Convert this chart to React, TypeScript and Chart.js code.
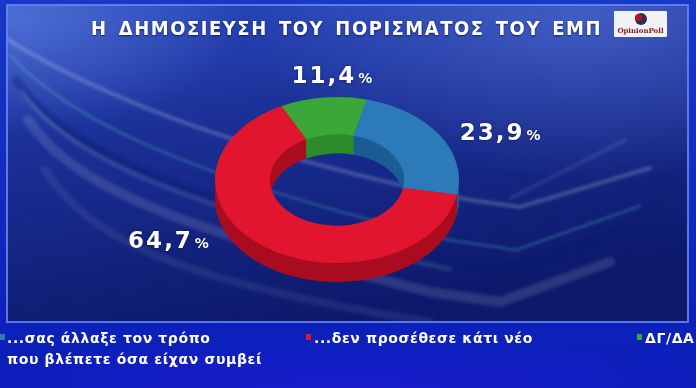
import React, { useEffect, useRef } from "react";
import { Chart, registerables } from "chart.js";

Chart.register(...registerables);

// ---------- data ----------
const title = "Η ΔΗΜΟΣΙΕΥΣΗ ΤΟΥ ΠΟΡΙΣΜΑΤΟΣ ΤΟΥ ΕΜΠ";
const categories = [
  "...σας άλλαξε τον τρόπο που βλέπετε όσα είχαν συμβεί",
  "...δεν προσέθεσε κάτι νέο",
  "ΔΓ/ΔΑ",
];
const legendLines = [
  ["...σας άλλαξε τον τρόπο", "που βλέπετε όσα είχαν συμβεί"],
  ["...δεν προσέθεσε κάτι νέο"],
  ["ΔΓ/ΔΑ"],
];
const values = [23.9, 64.7, 11.4];
const valueLabels = ["23,9", "64,7", "11,4"];
const topColors = ["#2c7bb8", "#e1152e", "#3aa738"];
const sideColors = ["#1b5d94", "#a90d1f", "#2b8c2a"];

// ---------- style ----------
const SQUASH = 0.68;
const DEPTH = 19;
// label placement: angle offset from slice middle (deg), radial factor of outer radius
const labelAngleOffset = [9.6, 26, 4.6];
const labelRadius = [1.456, 1.557, 1.27];

const ring3d = {
  id: "ring3d",
  beforeDatasetsDraw(chart: any) {
    const ctx = chart.ctx;
    const meta = chart.getDatasetMeta(0);
    const a0 = meta.data[0];
    const cx = a0.x, cy = a0.y;
    ctx.save();
    ctx.translate(cx, cy);
    ctx.scale(1, SQUASH);
    ctx.translate(-cx, -cy);
    for (let k = DEPTH; k >= 1; k--) {
      ctx.save();
      ctx.translate(0, k / SQUASH);
      meta.data.forEach((arc: any, i: number) => {
        const o = arc.options;
        const bg = o.backgroundColor;
        const bc = o.borderColor;
        o.backgroundColor = sideColors[i];
        o.borderColor = sideColors[i];
        arc.draw(ctx);
        o.backgroundColor = bg;
        o.borderColor = bc;
      });
      ctx.restore();
    }
  },
  afterDatasetsDraw(chart: any) {
    const ctx = chart.ctx;
    ctx.restore();
    const meta = chart.getDatasetMeta(0);
    meta.data.forEach((arc: any, i: number) => {
      const mid = (arc.startAngle + arc.endAngle) / 2 + (labelAngleOffset[i] * Math.PI) / 180;
      const r = arc.outerRadius * labelRadius[i];
      const x = arc.x + Math.cos(mid) * r;
      const y = arc.y + Math.sin(mid) * r * SQUASH;
      ctx.save();
      ctx.fillStyle = "#ffffff";
      ctx.textBaseline = "alphabetic";
      ctx.shadowColor = "rgba(0,0,30,0.5)";
      ctx.shadowBlur = 3;
      (ctx as any).letterSpacing = "2px";
      ctx.font = "bold 23px 'DejaVu Sans'";
      const wNum = ctx.measureText(valueLabels[i]).width;
      (ctx as any).letterSpacing = "0px";
      ctx.font = "bold 14px 'DejaVu Sans'";
      const wPct = ctx.measureText("%").width;
      const total = wNum + 2 + wPct;
      const left = x - total / 2;
      const base = y + 8;
      (ctx as any).letterSpacing = "2px";
      ctx.font = "bold 23px 'DejaVu Sans'";
      ctx.textAlign = "left";
      ctx.fillText(valueLabels[i], left, base);
      (ctx as any).letterSpacing = "0px";
      ctx.font = "bold 14px 'DejaVu Sans'";
      ctx.fillText("%", left + wNum + 2, base);
      ctx.restore();
    });
  },
};

function Background() {
  return (
    <svg width={696} height={388} style={{ position: "absolute", left: 0, top: 0 }}>
      <defs>
        <linearGradient id="outer" x1="0" y1="0" x2="0" y2="1">
          <stop offset="0" stopColor="#1838c8" />
          <stop offset="1" stopColor="#0a1db8" />
        </linearGradient>
        <linearGradient id="panel" x1="0" y1="0" x2="0.35" y2="1">
          <stop offset="0" stopColor="#2a4bc0" />
          <stop offset="0.45" stopColor="#1a2e94" />
          <stop offset="1" stopColor="#0d1a6c" />
        </linearGradient>
        <radialGradient id="glowTR" cx="0.85" cy="0.05" r="0.5">
          <stop offset="0" stopColor="#5a7ae0" stopOpacity="0.55" />
          <stop offset="1" stopColor="#5a7ae0" stopOpacity="0" />
        </radialGradient>
        <radialGradient id="glowTL" cx="0.0" cy="0.05" r="0.35">
          <stop offset="0" stopColor="#7a9af0" stopOpacity="0.45" />
          <stop offset="1" stopColor="#7a9af0" stopOpacity="0" />
        </radialGradient>
        <radialGradient id="glowBot" cx="0.5" cy="1" r="0.6">
          <stop offset="0" stopColor="#2a1ce0" stopOpacity="0.5" />
          <stop offset="1" stopColor="#2a1ce0" stopOpacity="0" />
        </radialGradient>
        <filter id="soft" x="-10%" y="-10%" width="120%" height="120%">
          <feGaussianBlur stdDeviation="1.4" />
        </filter>
        <clipPath id="pclip">
          <rect x={7} y={5} width={681} height={317} />
        </clipPath>
      </defs>
      <rect x={0} y={0} width={696} height={388} fill="url(#outer)" />
      <rect x={0} y={300} width={696} height={88} fill="url(#glowBot)" />
      <rect x={7} y={5} width={681} height={317} fill="url(#panel)" />
      <rect x={7} y={5} width={681} height={317} fill="url(#glowTR)" />
      <rect x={7} y={5} width={681} height={317} fill="url(#glowTL)" />
      <g fill="none" strokeLinecap="round" filter="url(#soft)" clipPath="url(#pclip)">
        <path d="M 5 38 C 80 85, 220 150, 470 200 L 520 207 L 650 168" stroke="#ffffff" strokeOpacity={0.2} strokeWidth={4} />
        <path d="M 10 55 C 60 110, 160 170, 450 240 L 516 250 L 640 206" stroke="#5fd0c0" strokeOpacity={0.35} strokeWidth={2} />
        <path d="M 16 80 C 60 140, 140 190, 450 262 L 516 268 L 636 226" stroke="#07146a" strokeOpacity={0.35} strokeWidth={8} />
        <path d="M 22 92 C 64 150, 144 198, 450 270" stroke="#ffffff" strokeOpacity={0.14} strokeWidth={3} />
        <path d="M 28 120 C 70 180, 150 222, 430 292 L 500 302 L 610 262" stroke="#ffffff" strokeOpacity={0.12} strokeWidth={10} />
        <path d="M 45 170 C 90 240, 180 282, 430 322" stroke="#ffffff" strokeOpacity={0.07} strokeWidth={8} />
        <path d="M 511 198 L 625 140" stroke="#ffffff" strokeOpacity={0.12} strokeWidth={3} />
      </g>
      <rect x={7} y={5} width={681} height={317} fill="none" stroke="#6b86f0" strokeOpacity={0.85} strokeWidth={2} />
    </svg>
  );
}

export default function App() {
  const ref = useRef<HTMLCanvasElement | null>(null);
  useEffect(() => {
    document.body.style.margin = "0";
    const chart = new Chart(ref.current as HTMLCanvasElement, {
      type: "doughnut",
      data: {
        labels: categories,
        datasets: [
          {
            data: values,
            backgroundColor: topColors,
            borderWidth: 0,
            hoverOffset: 0,
          },
        ],
      },
      options: {
        animation: false,
        responsive: false,
        maintainAspectRatio: false,
        events: [],
        rotation: 14,
        cutout: "55%",
        layout: { padding: { left: 215, right: 237, top: 58, bottom: 86 } },
        plugins: {
          legend: { display: false },
          tooltip: { enabled: false },
          title: { display: false },
        },
      },
      plugins: [ring3d],
    });
    return () => chart.destroy();
  }, []);

  const legendText: React.CSSProperties = {
    position: "absolute",
    color: "#ffffff",
    font: "bold 14px 'DejaVu Sans', sans-serif",
    letterSpacing: "0.6px",
    whiteSpace: "nowrap",
    textAlign: "justify",
    textAlignLast: "justify" as any,
    lineHeight: "16px",
  };
  const legendLayout = [
    { mx: 0, tx: 7, widths: [200, 255] },
    { mx: 306, tx: 314, widths: [218] },
    { mx: 637, tx: 645, widths: [47] },
  ];

  return (
    <div style={{ position: "fixed", left: 0, top: 0, width: 696, height: 388, overflow: "hidden", background: "#0a1db8" }}>
      <Background />
      <canvas ref={ref} width={696} height={388} style={{ position: "absolute", left: 0, top: 0, width: 696, height: 388 }} />
      <div
        style={{
          position: "absolute",
          left: 91,
          top: 17,
          width: 511,
          color: "#ffffff",
          font: "bold 20px 'DejaVu Sans Condensed', 'Liberation Sans Narrow', 'DejaVu Sans', sans-serif",
          letterSpacing: "1.5px",
          whiteSpace: "nowrap",
          textAlign: "justify",
          textAlignLast: "justify" as any,
          lineHeight: "22px",
          textShadow: "0 1px 2px rgba(0,0,40,0.6)",
        }}
      >
        {title}
      </div>
      <div style={{ position: "absolute", left: 614, top: 11, width: 53, height: 26, background: "#f2f2f4", borderRadius: 1 }}>
        <div style={{ position: "absolute", left: 21, top: 2, width: 12, height: 12, borderRadius: 6, background: "#2a3050" }} />
        <div style={{ position: "absolute", left: 21, top: 3, width: 7, height: 7, borderRadius: 4, background: "#c01020" }} />
        <div style={{ position: "absolute", left: 0, top: 15, width: 53, textAlign: "center", font: "bold 7px 'DejaVu Serif', serif", color: "#7a1a2a", letterSpacing: "0px" }}>
          OpinionPoll
        </div>
      </div>
      {legendLines.map((lines, i) => (
        <React.Fragment key={i}>
          <div style={{ position: "absolute", left: legendLayout[i].mx, top: 334, width: 5, height: 6, background: topColors[i] }} />
          {lines.map((ln, j) => (
            <div key={j} style={{ ...legendText, left: legendLayout[i].tx, top: 330 + j * 21, width: legendLayout[i].widths[j] }}>
              {ln}
            </div>
          ))}
        </React.Fragment>
      ))}
    </div>
  );
}
